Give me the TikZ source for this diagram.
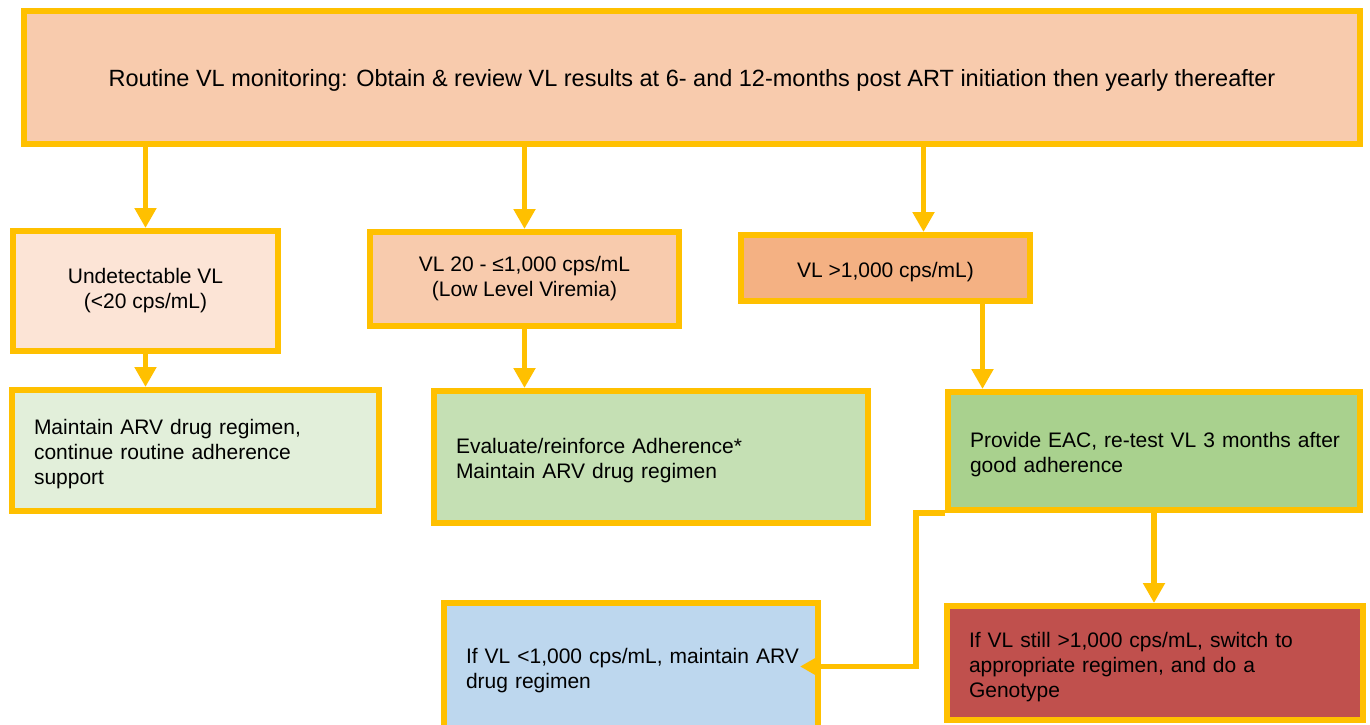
\documentclass[tikz,border=0pt]{standalone}
\usepackage{fontspec}
\setmainfont{Liberation Sans}
\usetikzlibrary{arrows.meta}
\definecolor{vlborder}{HTML}{FFC000}
\definecolor{peach}{HTML}{F8CBAD}
\definecolor{lightpeach}{HTML}{FCE4D6}
\definecolor{darkpeach}{HTML}{F4B183}
\definecolor{lightgreen}{HTML}{E2EFDA}
\definecolor{midgreen}{HTML}{C5E0B4}
\definecolor{darkgreen}{HTML}{A9D18E}
\definecolor{lightblue}{HTML}{BDD7EE}
\definecolor{darkred}{HTML}{C0504D}

\begin{document}
\begin{tikzpicture}[x=1pt,y=-1pt,->,>={Triangle[length=20pt,width=21pt]},
                    box/.style={rectangle,draw=vlborder,line width=6pt,inner sep=0pt,font=\fontsize{21}{25}\selectfont,
                                execute at begin node={\rule{0pt}{23pt}}},
                    centre box/.style={box,align=center},
                    left box/.style={box,align=left,inner xsep=22pt},
                    link/.style={draw=vlborder,line width=5.5pt},
                    every edge/.style={link}]
\useasboundingbox (0,0) rectangle (1370,724);

\node[centre box,fill=peach,minimum width=1336pt,minimum height=133pt,font=\fontsize{23.5}{28}\selectfont] (0) at (692,77.5)
  {Routine VL monitoring: Obtain \& review VL results at 6- and 12-months post ART initiation then yearly thereafter};

\node[centre box,fill=lightpeach,minimum width=265pt,minimum height=120pt] (1) at (145.5,291) {Undetectable VL\\(<20 cps/mL)};
\node[centre box,fill=peach,minimum width=309pt,minimum height=94pt] (2) at (524.5,279) {VL 20 - ≤1,000 cps/mL\\(Low Level Viremia)};
\node[centre box,fill=darkpeach,minimum width=289pt,minimum height=66pt] (3) at (885.5,268) {VL >1,000 cps/mL)};

\node[left box,fill=lightgreen,text width=323pt,minimum height=121pt] (4) at (195.5,450.5) {Maintain ARV drug regimen,\\continue routine adherence\\support};
\node[left box,fill=midgreen,text width=390pt,minimum height=132pt] (5) at (651,457) {Evaluate/reinforce Adherence*\\Maintain ARV drug regimen};
\node[left box,fill=darkgreen,text width=368pt,minimum height=118pt] (6) at (1154,451) {\mbox{Provide EAC, re-test VL 3 months after}\\good adherence};

\node[left box,fill=lightblue,text width=330pt,minimum height=127pt] (7) at (631,666.5) {\mbox{If VL <1,000 cps/mL, maintain ARV}\\drug regimen};
\node[left box,fill=darkred,text width=372pt,minimum height=114pt] (8) at (1155,663) {\mbox{If VL still >1,000 cps/mL, switch to}\\appropriate regimen, and do a\\Genotype};

\path (1 |- 0.south) edge (1)
      (2 |- 0.south) edge (2)
      ([xshift=38pt]3.north |- 0.south) edge ([xshift=38pt]3.north)
      (1) edge (1 |- 4.north)
      (2) edge (2 |- 5.north)
      ([xshift=97pt]3.south) edge ([xshift=97pt]3.south |- 6.north)
      (6) edge (6 |- 8.north);
\draw[link] (6.south west) -- ++(-29,0) |- ([xshift=-21pt]7.east);
\end{tikzpicture}
\end{document}
